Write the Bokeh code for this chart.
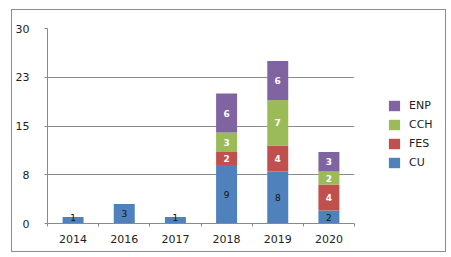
from bokeh.plotting import figure
from bokeh.layouts import row
from bokeh.models import (FixedTicker, CustomJSTickFormatter, Legend, LegendItem,
                          ColumnDataSource, Range1d, FactorRange, LinearAxis)
from bokeh.core.properties import value
from bokeh.embed import file_html
from bokeh.resources import INLINE

years = ["2014", "2016", "2017", "2018", "2019", "2020"]
cu = [1, 3, 1, 9, 8, 2]
fes = [0, 0, 0, 2, 4, 4]
cch = [0, 0, 0, 3, 7, 2]
enp = [0, 0, 0, 6, 6, 3]
series = ["CU", "FES", "CCH", "ENP"]
colors = ["#4F81BD", "#C0504D", "#9BBB59", "#8064A2"]
y_ticks = [0, 7.5, 15, 22.5, 30]

FONT = "DejaVu Sans"
GRID = "#8a8a8a"
TXT = "#222222"

data = {"years": years, "CU": cu, "FES": fes, "CCH": cch, "ENP": enp}
source = ColumnDataSource(data)

p = figure(x_range=FactorRange(*years, range_padding=0), y_range=Range1d(0, 30),
           width=375, height=241, x_axis_type=None,
           output_backend="svg", toolbar_location=None,
           min_border_left=33, min_border_right=33, min_border_top=18, min_border_bottom=28)
p.outline_line_color = None
p.background_fill_color = "white"
p.border_fill_color = "white"

renderers = p.vbar_stack(series, x="years", width=0.41, color=colors, source=source,
                         line_color=None)

# segment labels
lab_x, lab_y, lab_t = {s: [] for s in series}, {s: [] for s in series}, {s: [] for s in series}
for i, yr in enumerate(years):
    base = 0
    for s in series:
        v = data[s][i]
        if v > 0:
            lab_x[s].append(yr)
            lab_y[s].append(max(base + v / 2, 1.0))
            lab_t[s].append(str(v))
        base += v
for s in series:
    src = ColumnDataSource(dict(x=lab_x[s], y=lab_y[s], t=lab_t[s]))
    if s == "CU":
        p.text(x="x", y="y", text="t", source=src, text_align="center",
               text_baseline="middle", text_font=value(FONT), text_font_size="9px",
               text_color="#111111")
    else:
        p.text(x="x", y="y", text="t", source=src, text_align="center",
               text_baseline="middle", text_font=value(FONT), text_font_size="9px",
               text_font_style="bold", text_color="white")

# y axis
p.yaxis.ticker = FixedTicker(ticks=y_ticks)
p.yaxis.formatter = CustomJSTickFormatter(code="return String(Math.round(tick));")
p.yaxis.major_tick_out = 3
p.yaxis.major_tick_in = 0
p.yaxis.minor_tick_out = 0
p.yaxis.minor_tick_in = 0
p.yaxis.major_tick_line_color = GRID
p.yaxis.axis_line_color = GRID
p.yaxis.major_label_standoff = 15
p.yaxis.major_label_text_font = FONT
p.yaxis.major_label_text_font_size = "11px"
p.yaxis.major_label_text_color = TXT

# x axis: labels at category centres, ticks at category boundaries
centres = [i + 0.5 for i in range(len(years))]
bounds = list(range(len(years) + 1))
xaxis = LinearAxis(ticker=FixedTicker(ticks=centres, minor_ticks=bounds),
                   formatter=CustomJSTickFormatter(args=dict(years=years),
                                                   code="return years[Math.floor(tick)];"))
xaxis.axis_line_color = GRID
xaxis.major_tick_line_color = None
xaxis.major_tick_out = 0
xaxis.major_tick_in = 0
xaxis.minor_tick_line_color = GRID
xaxis.minor_tick_out = 3
xaxis.minor_tick_in = 0
xaxis.major_label_standoff = 8
xaxis.major_label_text_font = FONT
xaxis.major_label_text_font_size = "11px"
xaxis.major_label_text_color = TXT
p.add_layout(xaxis, "below")

p.ygrid.grid_line_color = GRID
p.ygrid.ticker = FixedTicker(ticks=y_ticks)

# legend panel (key glyphs sit outside the visible range; only the legend shows)
p2 = figure(width=58, height=241, x_range=Range1d(0, 1), y_range=Range1d(0, 1),
            x_axis_type=None, y_axis_type=None, output_backend="svg",
            toolbar_location=None, min_border=0)
p2.outline_line_color = None
p2.xgrid.visible = False
p2.ygrid.visible = False
keys = []
for s, c in zip(series, colors):
    keys.append(p2.vbar(x=[5], top=[5], bottom=[4], width=0.5, color=c, line_color=None))
legend = Legend(items=[LegendItem(label=s, renderers=[keys[i]])
                       for i, s in reversed(list(enumerate(series)))],
                location=(0, 54), padding=0, margin=0, spacing=6,
                glyph_width=14, glyph_height=13, label_height=13, label_standoff=8,
                label_text_font=FONT, label_text_font_size="11px",
                label_text_color=TXT,
                border_line_color=None, background_fill_alpha=0)
p2.add_layout(legend, "center")

layout = row(p, p2, margin=(9, 0, 0, 11), spacing=0)
layout.styles = {"border": "1px solid #8c8c8c", "background-color": "white"}

open("out.html", "w").write(file_html(layout, INLINE))
